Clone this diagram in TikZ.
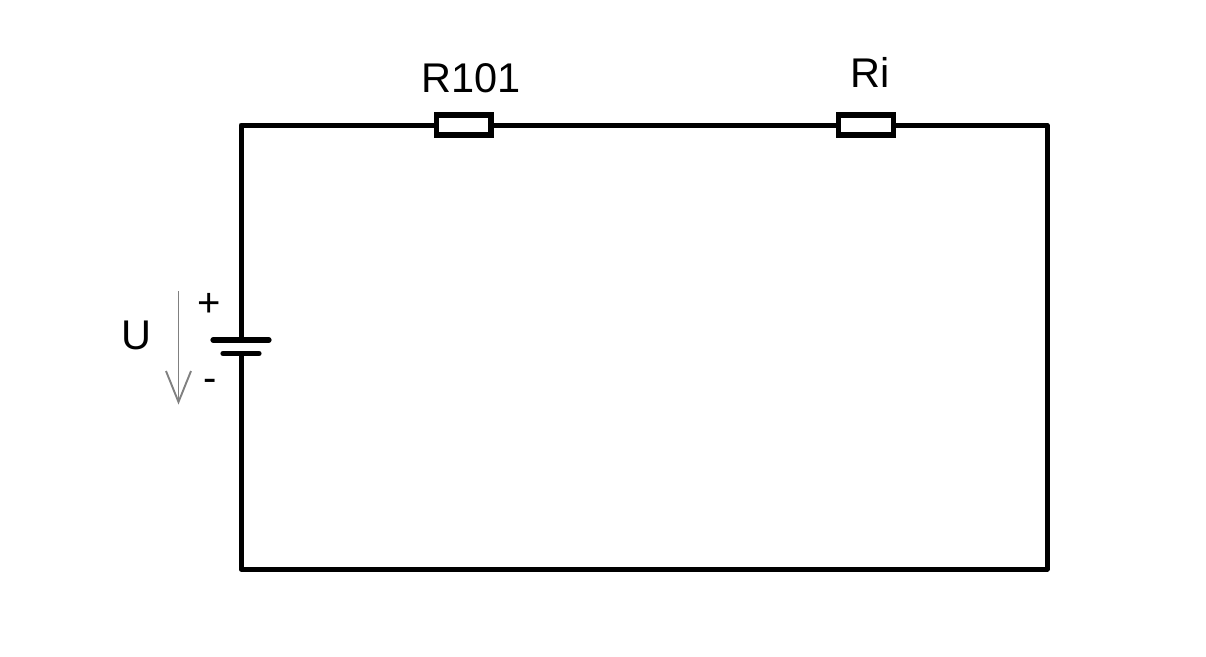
\documentclass[tikz,border=0pt]{standalone}
\usepackage{fontspec}
\setmainfont{Liberation Sans}
\tikzset{
  wire/.style={line width=5pt,black,line cap=round,line join=round},
  res/.style={draw=black,fill=white,line width=5.4pt,minimum width=54.5pt,minimum height=20pt,inner sep=0pt,outer sep=0pt},
  lbl/.style={inner sep=0pt,outer sep=0pt,text=black,font=\fontsize{41.5}{41.5}\selectfont,anchor=base},
  signlbl/.style={lbl,font=\fontsize{40}{40}\selectfont},
  plate/.style={line width=5.2pt,black,line cap=round},
  uarrow/.style={line width=1.9pt,black!50!white,line join=miter}
}
\begin{document}
\begin{tikzpicture}[x=1pt,y=-1pt]
\useasboundingbox (0,0) rectangle (1206,656);
\coordinate (tl) at (241,125);
\coordinate (tr) at (1047,125);
\coordinate (br) at (1047,569);
\coordinate (bl) at (241,569);
\coordinate (pl1) at (213,340);
\coordinate (pr1) at (269,340);
\coordinate (pc1) at (241,340);
\coordinate (pl2) at (223,353.5);
\coordinate (pr2) at (259,353.5);
\coordinate (pc2) at (241,353.5);
\coordinate (at) at (178.5,291);
\coordinate (ah) at (178.5,402);
\coordinate (al) at (166,371);
\coordinate (ar) at (191,371);
\draw[wire] (pc1) -- (tl) -- (tr) -- (br) -- (bl) -- (pc2);
\node[res] (r101) at (463.75,125) {};
\node[res] (ri) at (866,125) {};
\draw[plate] (pl1) -- (pr1);
\draw[plate] (pl2) -- (pr2);
\draw[uarrow] (at) -- (ah);
\draw[uarrow] (al) -- (ah) -- (ar);
\node[lbl] (lr101) at (471,92) {R101};
\node[lbl] (lri) at (870,87) {Ri};
\node[lbl] (lu) at (136.5,349) {U};
\node[signlbl] (lp) at (209.5,316) {+};
\node[signlbl] (lm) at (210,391.5) {-};
\end{tikzpicture}
\end{document}
